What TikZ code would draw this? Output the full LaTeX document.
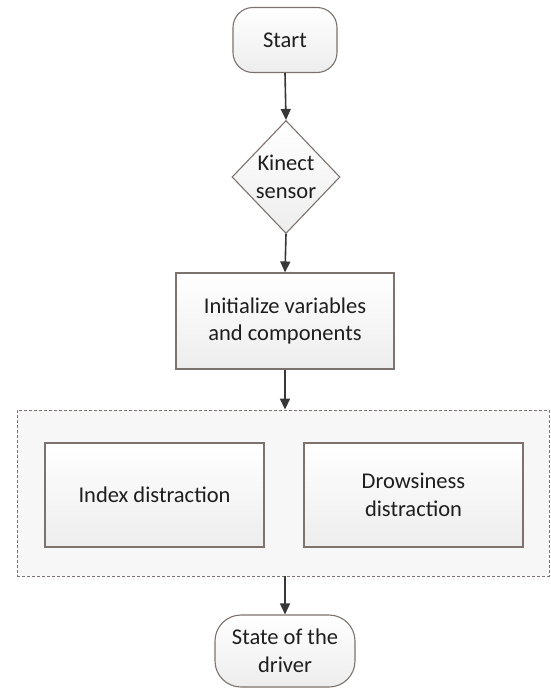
\documentclass[tikz,border=0pt]{standalone}
\usepackage{fontspec}
\setmainfont{Carlito}
\usetikzlibrary{shapes.geometric,arrows.meta}
\definecolor{edge}{RGB}{125,115,110}
\definecolor{arrowc}{RGB}{55,55,55}
\definecolor{txt}{RGB}{30,30,30}
\tikzset{
  x=1pt,y=-1pt,
  box/.style={draw=edge,line width=1.1pt,top color=white,bottom color=black!7,text=txt,align=center,inner sep=0pt,font=\fontsize{22.5}{27.5}\selectfont},
  term/.style={box,rounded corners=20pt},
  dec/.style={box,diamond,shape aspect=1},
  grp/.style={draw=edge,dash pattern=on 3pt off 2pt,line width=0.9pt,fill=black!3,inner sep=0pt},
  flow/.style={draw=arrowc,line width=1.6pt,-{Triangle[length=11pt,width=10pt]}}
}
\begin{document}
\begin{tikzpicture}
\useasboundingbox[fill=white] (0,0) rectangle (551,691);
\node[grp,minimum width=532pt,minimum height=166pt] (grp) at (283,493) {};
\node[term,minimum width=104pt,minimum height=65pt] (start) at (285,40) {Start};
\node[dec,minimum width=108pt,minimum height=113pt] (kin) at (286,177) {Kinect\\sensor};
\node[box,minimum width=218pt,minimum height=96pt] (init) at (285,321) {Initialize variables\\and components};
\node[box,minimum width=219pt,minimum height=104pt] (idx) at (154.5,495) {Index distraction};
\node[box,minimum width=219pt,minimum height=104pt] (drow) at (413.5,495) {Drowsiness\\distraction};
\node[term,rounded corners=26pt,minimum width=140pt,minimum height=72pt] (state) at (285,651) {State of the\\driver};
\draw[flow] (start.south) -- (kin.north);
\draw[flow] (kin.south) -- (init.north);
\draw[flow] (init.south) -- (init.south |- grp.north);
\draw[flow] (grp.south -| state.north) -- (state.north);
\end{tikzpicture}
\end{document}
